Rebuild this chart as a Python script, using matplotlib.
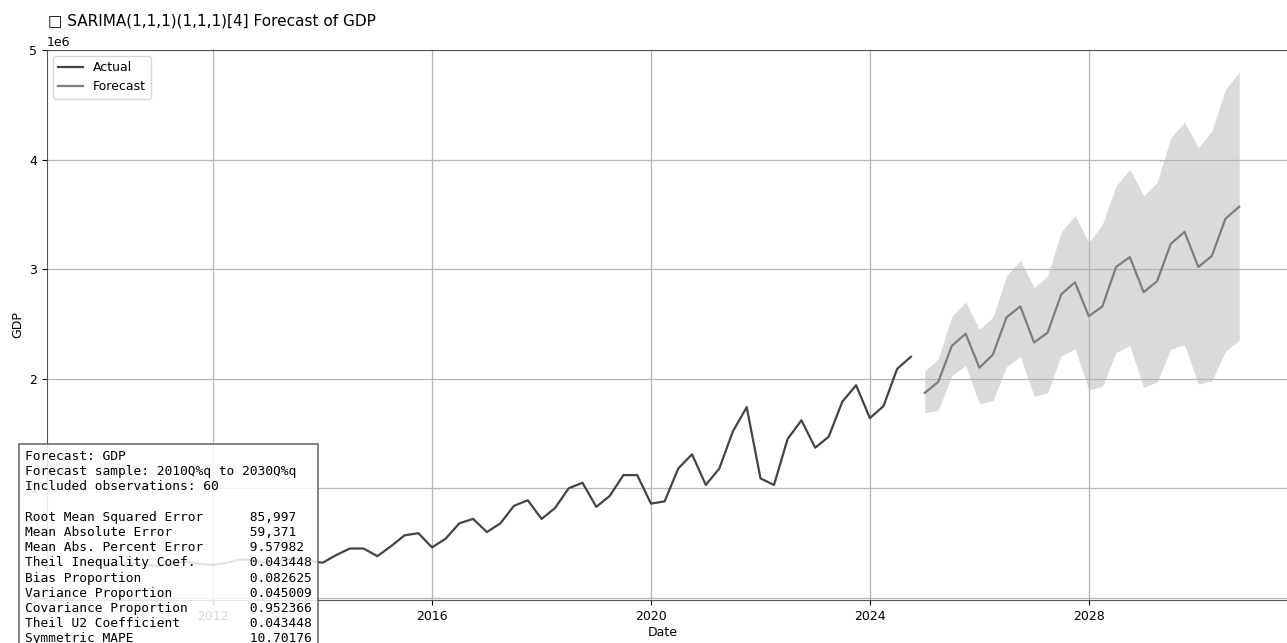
import numpy as np
import pandas as pd
import matplotlib
matplotlib.use("Agg")
import matplotlib.pyplot as plt
import matplotlib.dates as mdates

# actual GDP, 2010Q1 - 2024Q4 (millions)
actual_vals = [0.28, 0.30, 0.32, 0.30,
               0.29, 0.31, 0.33, 0.31,
               0.30, 0.32, 0.35, 0.34,
               0.32, 0.34, 0.36, 0.34,
               0.32, 0.39, 0.45, 0.45,
               0.38, 0.47, 0.57, 0.59,
               0.46, 0.54, 0.68, 0.72,
               0.60, 0.68, 0.84, 0.89,
               0.72, 0.82, 1.00, 1.05,
               0.83, 0.93, 1.12, 1.12,
               0.86, 0.88, 1.18, 1.31,
               1.03, 1.18, 1.52, 1.74,
               1.09, 1.03, 1.45, 1.62,
               1.37, 1.47, 1.79, 1.94,
               1.64, 1.75, 2.09, 2.20]

# forecast 2025Q1 - 2030Q4
fc_mean = [1.87, 1.97, 2.30, 2.41,
           2.10, 2.22, 2.56, 2.66,
           2.33, 2.42, 2.77, 2.88,
           2.57, 2.66, 3.02, 3.11,
           2.79, 2.89, 3.23, 3.34,
           3.02, 3.12, 3.46, 3.57]
fc_lower = [1.69, 1.71, 2.03, 2.12,
            1.77, 1.80, 2.11, 2.20,
            1.84, 1.87, 2.21, 2.27,
            1.90, 1.93, 2.24, 2.30,
            1.92, 1.97, 2.27, 2.31,
            1.95, 1.98, 2.25, 2.35]
fc_upper = [2.07, 2.18, 2.57, 2.70,
            2.45, 2.56, 2.94, 3.08,
            2.83, 2.94, 3.34, 3.49,
            3.24, 3.41, 3.76, 3.91,
            3.67, 3.79, 4.20, 4.34,
            4.11, 4.26, 4.64, 4.80]

stat_names = ["Root Mean Squared Error", "Mean Absolute Error", "Mean Abs. Percent Error",
              "Theil Inequality Coef.", "Bias Proportion", "Variance Proportion",
              "Covariance Proportion", "Theil U2 Coefficient", "Symmetric MAPE"]
stat_vals = ["85,997", "59,371", "9.57982", "0.043448", "0.082625", "0.045009",
             "0.952366", "0.043448", "10.70176"]

actual_dates = pd.date_range("2010-01-01", periods=len(actual_vals), freq="QS")
fc_dates = pd.date_range("2025-01-01", periods=len(fc_mean), freq="QS")
actual = np.array(actual_vals) * 1e6
mean = np.array(fc_mean) * 1e6
lower = np.array(fc_lower) * 1e6
upper = np.array(fc_upper) * 1e6

fig = plt.figure(figsize=(12.87, 6.43), dpi=100)
ax = fig.add_axes([47/1287, 43/643, 1249/1287, 550/643])

ax.plot(actual_dates, actual, color='#444444', lw=1.6, label='Actual')
ax.plot(fc_dates, mean, color='#7e7e7e', lw=1.6, label='Forecast')
ax.fill_between(fc_dates, lower, upper, color='#dadada', lw=0)

ax.set_ylim(-0.02e6, 5.0e6)
ax.xaxis.set_major_locator(mdates.YearLocator(4))
ax.xaxis.set_major_formatter(mdates.DateFormatter('%Y'))
ax.grid(True, color='#b4b4b4', lw=0.9)
ax.tick_params(labelsize=9)
ax.yaxis.get_offset_text().set_fontsize(9)
ax.set_xlabel("Date", fontsize=9)
ax.set_ylabel("GDP", fontsize=9)
ax.xaxis.set_label_coords((663 - 47)/1249, -26/550)
ax.yaxis.set_label_coords((24 - 47)/1249, 0.5)
for s in ax.spines.values():
    s.set_color('#555555')
ax.legend(loc='upper left', fontsize=9)

fig.text(48/1287, 1 - 21/643, "\u25a1 SARIMA(1,1,1)(1,1,1)[4] Forecast of GDP",
         fontsize=11, va='center', ha='left')

lines = ["Forecast: GDP",
         "Forecast sample: 2010Q%q to 2030Q%q",
         "Included observations: 60",
         ""]
for n, v in zip(stat_names, stat_vals):
    lines.append(f"{n:<29}{v}")
fig.text(25/1287, (643 - 450)/643, "\n".join(lines), family='DejaVu Sans Mono',
         fontsize=9.3, va='top', ha='left', linespacing=1.22,
         bbox=dict(boxstyle='square,pad=0.5', facecolor='white', alpha=0.85,
                   edgecolor='#555555', lw=1.2))

fig.savefig("out.png", dpi=100)
